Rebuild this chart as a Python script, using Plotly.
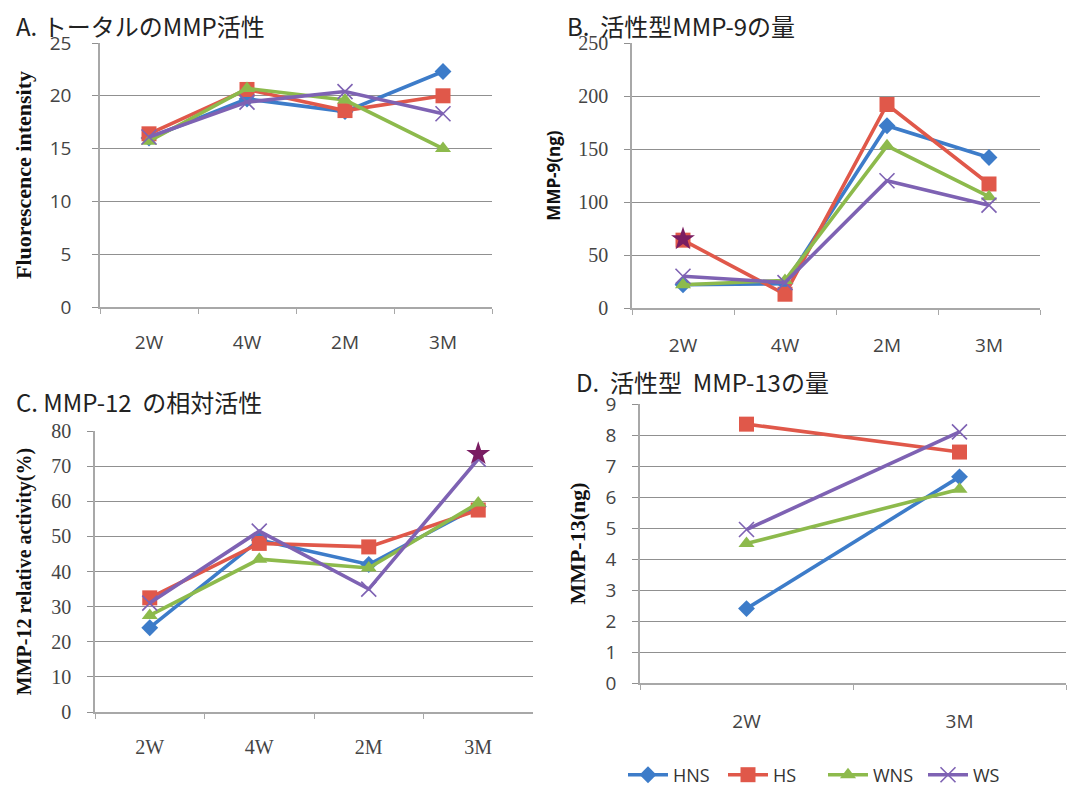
import plotly.graph_objects as go

W, H = 1084, 786

groups = ["HNS", "HS", "WNS", "WS"]
colors = {"HNS": "#3d7cc9", "HS": "#e0584a", "WNS": "#8dba4c", "WS": "#7e62b3"}
symbols = {"HNS": "diamond", "HS": "square", "WNS": "triangle-up", "WS": "x-thin-open"}
sizes = {"HNS": 13, "HS": 15, "WNS": 14, "WS": 15}

cats4 = ["2W", "4W", "2M", "3M"]
cats2 = ["2W", "3M"]

# Panel A: total MMP activity (fluorescence intensity)
a_vals = {
    "HNS": [16.0, 19.7, 18.5, 22.3],
    "HS": [16.4, 20.6, 18.6, 20.0],
    "WNS": [15.7, 20.7, 19.6, 15.0],
    "WS": [16.1, 19.4, 20.4, 18.3],
}
# Panel B: active MMP-9 (ng)
b_vals = {
    "HNS": [22, 23, 172, 142],
    "HS": [64, 13, 192, 117],
    "WNS": [22, 26, 153, 105],
    "WS": [30, 24, 120, 97],
}
b_star_x = ["2W"]
b_star_y = [65]
# Panel C: MMP-12 relative activity (%)
c_vals = {
    "HNS": [24.0, 49.0, 42.0, 58.5],
    "HS": [32.5, 48.0, 47.0, 57.5],
    "WNS": [27.5, 43.5, 41.0, 59.5],
    "WS": [31.0, 51.5, 35.0, 72.0],
}
c_star_x = ["3M"]
c_star_y = [73.5]
# Panel D: active MMP-13 (ng)
d_vals = {
    "HNS": [2.4, 6.65],
    "HS": [8.35, 7.45],
    "WNS": [4.5, 6.25],
    "WS": [4.95, 8.1],
}

star_color = "#7a1d62"
grid_color = "#909090"
axis_color = "#a8a8a8"
tick_color = "#444444"
SANS = "Open Sans, Liberation Sans, sans-serif"
SERIF = "Liberation Serif, Times New Roman, serif"
JP = "Noto Sans CJK JP, sans-serif"


def px_dom_x(a, b):
    return [a / W, b / W]


def px_dom_y(top, bottom):
    return [1 - bottom / H, 1 - top / H]


fig = go.Figure()

panels = [
    ("x", "y", cats4, a_vals),
    ("x2", "y2", cats4, b_vals),
    ("x3", "y3", cats4, c_vals),
    ("x4", "y4", cats2, d_vals),
]

for xa, ya, cats, vals in panels:
    for g in groups:
        marker = dict(symbol=symbols[g], size=sizes[g], color=colors[g])
        if g == "WS":
            marker["line"] = dict(color=colors[g], width=1.6)
        fig.add_trace(go.Scatter(
            x=cats, y=vals[g], mode="lines+markers", name=g,
            line=dict(color=colors[g], width=3.6),
            marker=marker, xaxis=xa, yaxis=ya,
            showlegend=(xa == "x4"), legendgroup=g,
        ))

fig.add_trace(go.Scatter(x=b_star_x, y=b_star_y, mode="markers", showlegend=False,
                         marker=dict(symbol="star", size=18, color=star_color),
                         xaxis="x2", yaxis="y2"))
fig.add_trace(go.Scatter(x=c_star_x, y=c_star_y, mode="markers", showlegend=False,
                         marker=dict(symbol="star", size=18, color=star_color),
                         xaxis="x3", yaxis="y3"))


def xaxis(dom, anchor, n, font_family, size=19, standoff=20):
    return dict(domain=dom, anchor=anchor, type="category", range=[-0.5, n - 0.5],
                showline=True, linecolor=axis_color, linewidth=1.5,
                ticks="outside", tickson="boundaries", ticklen=5, tickcolor=axis_color,
                showgrid=False, zeroline=False, automargin=False,
                tickfont=dict(family=font_family, size=size, color=tick_color),
                ticklabelstandoff=standoff, fixedrange=True)


def yaxis(dom, anchor, rng, dtick, font_family, title, title_font, size=19, standoff=10,
          label_standoff=12):
    return dict(domain=dom, anchor=anchor, range=rng, dtick=dtick,
                showline=True, linecolor=axis_color, linewidth=1.5,
                ticks="outside", ticklen=6, tickcolor=grid_color,
                showgrid=True, gridcolor=grid_color, gridwidth=1.4,
                zeroline=False, automargin=False,
                tickfont=dict(family=font_family, size=size, color=tick_color),
                ticklabelstandoff=label_standoff,
                title=dict(text=title, font=title_font, standoff=standoff),
                fixedrange=True)


fig.update_layout(
    width=W, height=H, autosize=False,
    margin=dict(l=0, r=0, t=0, b=0, autoexpand=False),
    paper_bgcolor="white", plot_bgcolor="white",
    showlegend=True,
    legend=dict(orientation="h", x=623 / W, y=1 - 775 / H, xanchor="left", yanchor="middle",
                font=dict(family=SANS, size=18, color="#333333"),
                itemwidth=40, entrywidth=45, entrywidthmode="pixels",
                tracegroupgap=0, bgcolor="rgba(0,0,0,0)"),
    xaxis=xaxis(px_dom_x(100, 492), "y", 4, SANS, standoff=17),
    yaxis=yaxis(px_dom_y(43, 307), "x", [0, 25], 5, SANS, "<b>Fluorescence intensity</b>",
                dict(family=SERIF, size=22, color="#111111"), standoff=12, label_standoff=17),
    xaxis2=xaxis(px_dom_x(632, 1040), "y2", 4, SANS, standoff=19),
    yaxis2=yaxis(px_dom_y(43, 308), "x2", [0, 250], 50, SERIF, "<b>MMP-9(ng)</b>",
                 dict(family=SANS, size=17, color="#111111"), size=20, standoff=13),
    xaxis3=xaxis(px_dom_x(95, 533), "y3", 4, SERIF, size=20, standoff=16),
    yaxis3=yaxis(px_dom_y(431, 712), "x3", [0, 80], 10, SERIF, "<b>MMP-12 relative activity(%)</b>",
                 dict(family=SERIF, size=20, color="#111111"), size=20, standoff=14),
    xaxis4=xaxis(px_dom_x(640, 1066), "y4", 2, SANS, standoff=20),
    yaxis4=yaxis(px_dom_y(404, 683), "x4", [0, 9], 1, SANS, "<b>MMP-13(ng)</b>",
                 dict(family=SERIF, size=22, color="#111111"), standoff=14),
)

titles = [
    ("A. トータルのMMP活性", 14, 25),
    ("B.\u00a0 活性型MMP-9の量", 565, 25),
    ("C. MMP-12\u00a0 の相対活性", 14, 402),
    ("D.\u00a0 活性型\u00a0 MMP-13の量", 574, 382),
]
for text, x, y in titles:
    fig.add_annotation(text=text, x=x / W, y=1 - y / H, xref="paper", yref="paper",
                       xanchor="left", yanchor="middle", showarrow=False,
                       font=dict(family=JP, size=24, color="#222222"))

fig.write_html("out.html", config={"displayModeBar": False},
               post_script="document.body.style.margin='0';document.body.style.overflow='hidden';")
